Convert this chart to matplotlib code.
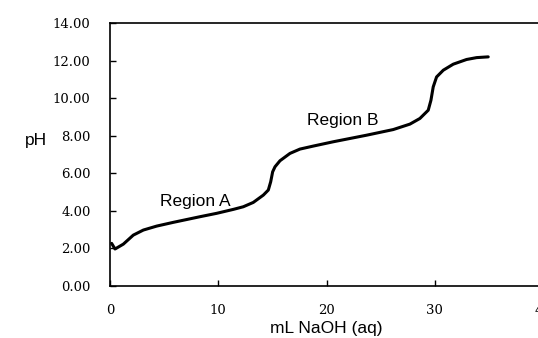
import numpy as np
import matplotlib.pyplot as plt

# titration curve
ml_naoh = [0.15, 0.46, 1.23, 2.15, 3.08, 4.31, 5.85, 8.31, 9.85, 11.39,
           12.31, 13.23, 14.16, 14.62, 14.84, 15.02, 15.24, 15.70, 16.62,
           17.54, 18.77, 20.62, 23.70, 26.16, 27.70, 28.62, 29.39, 29.64,
           29.85, 30.16, 30.78, 31.70, 32.93, 33.86, 34.93]
ph = [2.27, 1.97, 2.23, 2.71, 2.98, 3.19, 3.39, 3.69, 3.87, 4.08,
      4.22, 4.45, 4.84, 5.11, 5.55, 6.08, 6.35, 6.67, 7.06,
      7.29, 7.45, 7.68, 8.03, 8.33, 8.62, 8.92, 9.36, 9.89,
      10.60, 11.13, 11.49, 11.81, 12.06, 12.16, 12.20]

region_labels = ['Region A', 'Region B']
region_pos = [(7.85, 4.48), (21.5, 8.83)]

x_ticks = [0, 10, 20, 30, 40]
y_ticks = [0, 2, 4, 6, 8, 10, 12, 14]

fig = plt.figure(figsize=(5.38, 3.38), dpi=100)
ax = fig.add_axes([0.2045, 0.1538, 0.805, 0.778])

ax.plot(ml_naoh, ph, color='black', lw=2.2, solid_capstyle='round',
        solid_joinstyle='round')

for lab, (x, y) in zip(region_labels, region_pos):
    ax.text(x, y, lab, ha='center', va='center', fontsize=12.5,
            family='Liberation Sans')

ax.set_xlim(0, 40)
ax.set_ylim(0, 14)
ax.set_xticks(x_ticks)
ax.set_yticks(y_ticks)
ax.set_yticklabels(['%.2f' % v for v in y_ticks])
ax.tick_params(direction='in', length=4, width=1, pad=13)
ax.tick_params(axis='y', pad=14)
for lab in ax.get_xticklabels() + ax.get_yticklabels():
    lab.set_family('DejaVu Serif')
    lab.set_fontsize(9.5)

for s in ['left', 'top', 'bottom', 'right']:
    ax.spines[s].set_linewidth(1.2)

ax.set_xlabel('mL NaOH (aq)', fontsize=12.5, family='Liberation Sans', labelpad=3)
ax.set_ylabel('pH', fontsize=12.5, family='Liberation Sans', rotation=0,
              va='center', ha='center')
ax.yaxis.set_label_coords(-0.171, 0.555)

plt.savefig('out.png', dpi=100)
